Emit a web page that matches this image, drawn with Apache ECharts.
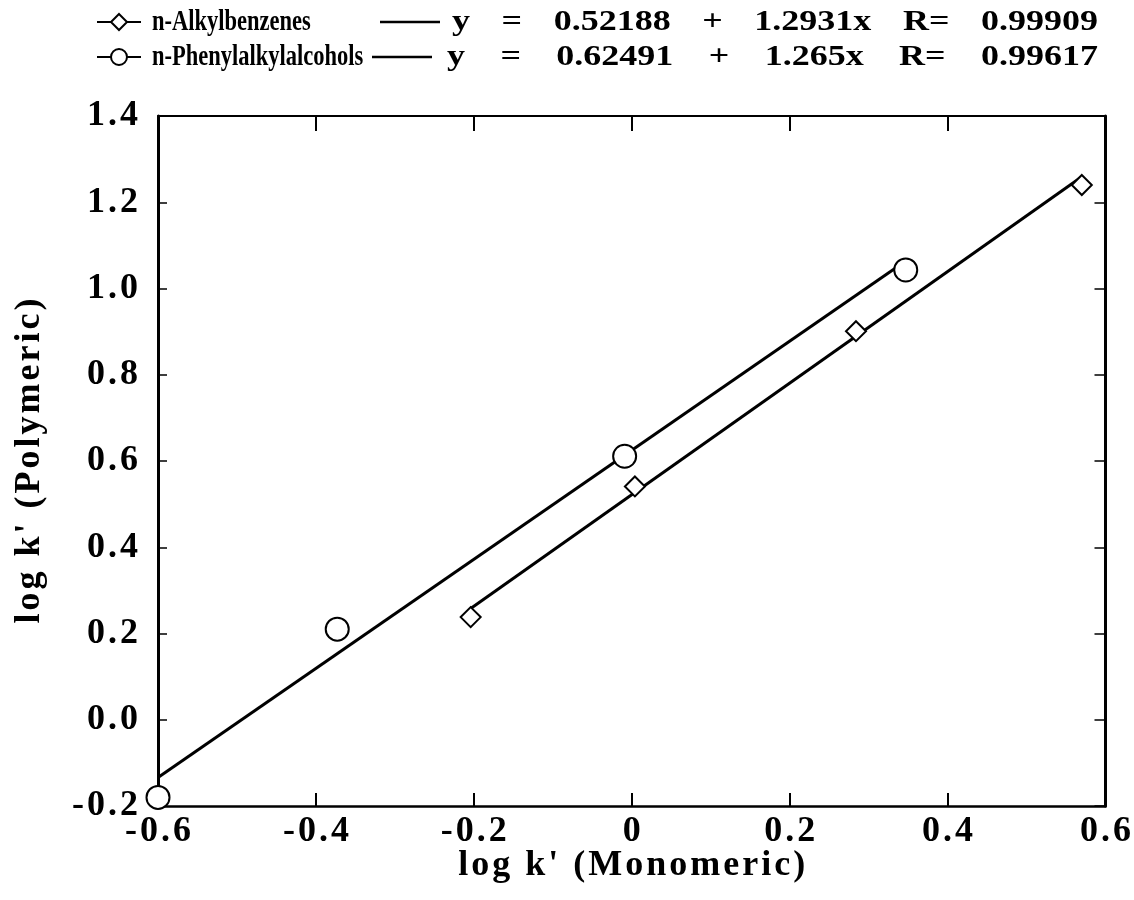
<!DOCTYPE html>
<html>
<head>
<meta charset="utf-8">
<script src="https://cdn.jsdelivr.net/npm/echarts@6/dist/echarts.min.js"></script>
<style>
  html, body { margin: 0; padding: 0; background: #fff; }
  #chart { width: 1134px; height: 900px; }
</style>
</head>
<body>
<div id="chart"></div>
<script>
// log k' values on the monomeric (x) and polymeric (y) phases
const alkylName = 'n-Alkylbenzenes';
const alkylX = [-0.204, 0.004, 0.284, 0.570];
const alkylY = [0.238, 0.541, 0.901, 1.240];

const phenylName = 'n-Phenylalkylalcohols';
const phenylX = [-0.600, -0.373, -0.009, 0.347];
const phenylY = [-0.180, 0.210, 0.611, 1.043];

// linear fits: y = a + b x, with correlation R
const fitA = [0.52188, 0.62491];
const fitB = [1.2931, 1.265];
const fitR = ['0.99909', '0.99617'];
const fitTokens = [0, 1].map(k => ['y', '=', String(fitA[k]), '+', fitB[k] + 'x', 'R=', fitR[k]]);

const xTicks = { min: -0.6, max: 0.6, step: 0.2 };
const yTicks = { min: -0.2, max: 1.4, step: 0.2 };

const pairs = (xs, ys) => xs.map((x, i) => [x, ys[i]]);
const fitLine = (k, xs) => {
  const lo = Math.min(...xs), hi = Math.max(...xs);
  return [[lo, fitA[k] + fitB[k] * lo], [hi, fitA[k] + fitB[k] * hi]];
};

const SERIF = '"Liberation Serif", "Times New Roman", serif';
const HAIR = '\u200A';
const spread = s => s.split('').join(HAIR);

const xLabel = v => spread(Math.abs(v) < 1e-9 ? '0' : v.toFixed(1));
const yLabel = v => spread(Math.abs(v) < 1e-9 ? '0.0' : v.toFixed(1));

const labelStyle = { fontFamily: SERIF, fontWeight: 'bold', fontSize: 36, color: '#000' };
const titleStyle = { fontFamily: SERIF, fontWeight: 'bold', fontSize: 36, color: '#000' };

// legend text: bold serif, measured so the pieces can be laid out in their slots
const LEGEND_FONT = 'bold 30px ' + SERIF;
const measureCtx = document.createElement('canvas').getContext('2d');
measureCtx.font = LEGEND_FONT;
const textWidth = s => measureCtx.measureText(s).width;
const NAME_SCALE = 0.75;
const EQ_SCALE = 1.2;

function legendText(str, x, y, scale) {
  return {
    type: 'text', x: x, y: y, scaleX: scale,
    style: { text: str, font: LEGEND_FONT, fill: '#000', textVerticalAlign: 'middle' }
  };
}
// spread the equation tokens evenly between x0 and x1
function equation(tokens, x0, x1, y) {
  const widths = tokens.map(t => textWidth(t) * EQ_SCALE);
  const gap = (x1 - x0 - widths.reduce((a, b) => a + b, 0)) / (tokens.length - 1);
  let x = x0;
  return tokens.map((t, i) => {
    const el = legendText(t, x, y, EQ_SCALE);
    x += widths[i] + gap;
    return el;
  });
}
function hline(x0, x1, y, w) {
  return { type: 'line', shape: { x1: x0, y1: y, x2: x1, y2: y }, style: { stroke: '#000', lineWidth: w } };
}

const row1 = 22, row2 = 57;
const keyX = 119;

const chart = echarts.init(document.getElementById('chart'), null, { renderer: 'canvas' });

const option = {
  backgroundColor: '#fff',
  animation: false,
  grid: { left: 158, right: 28, top: 116, bottom: 94 },
  xAxis: [
    {
      type: 'value', min: xTicks.min, max: xTicks.max, interval: xTicks.step, position: 'bottom',
      name: spread("log k' (Monomeric)"), nameLocation: 'middle', nameGap: 42, nameMoveOverlap: false,
      nameTextStyle: titleStyle,
      axisLine: { onZero: false, lineStyle: { color: '#000', width: 2.5 } },
      axisTick: { inside: true, length: 13, lineStyle: { color: '#000', width: 2 } },
      axisLabel: Object.assign({ margin: 8, formatter: xLabel }, labelStyle),
      splitLine: { show: false }
    },
    {
      type: 'value', min: xTicks.min, max: xTicks.max, interval: xTicks.step, position: 'top',
      axisLine: { onZero: false, lineStyle: { color: '#000', width: 2 } },
      axisTick: { inside: true, length: 15, lineStyle: { color: '#000', width: 2 } },
      axisLabel: { show: false },
      splitLine: { show: false }
    }
  ],
  yAxis: [
    {
      type: 'value', min: yTicks.min, max: yTicks.max, interval: yTicks.step, position: 'left',
      name: spread("log k' (Polymeric)"), nameLocation: 'middle', nameGap: 110, nameRotate: 90,
      nameMoveOverlap: false,
      nameTextStyle: titleStyle,
      axisLine: { onZero: false, lineStyle: { color: '#000', width: 3 } },
      axisTick: { inside: true, length: 9, lineStyle: { color: '#000', width: 1.5 } },
      axisLabel: Object.assign({ margin: 20, formatter: yLabel }, labelStyle),
      splitLine: { show: false }
    },
    {
      type: 'value', min: yTicks.min, max: yTicks.max, interval: yTicks.step, position: 'right',
      axisLine: { onZero: false, lineStyle: { color: '#000', width: 3 } },
      axisTick: { inside: true, length: 11, lineStyle: { color: '#000', width: 1.5 } },
      axisLabel: { show: false },
      splitLine: { show: false }
    }
  ],
  series: [
    {
      name: 'fit ' + alkylName, type: 'line', data: fitLine(0, alkylX), symbol: 'none',
      lineStyle: { color: '#000', width: 3 }, z: 2
    },
    {
      name: 'fit ' + phenylName, type: 'line', data: fitLine(1, phenylX), symbol: 'none',
      lineStyle: { color: '#000', width: 3 }, z: 2
    },
    {
      name: alkylName, type: 'scatter', data: pairs(alkylX, alkylY), symbol: 'diamond', symbolSize: 20,
      itemStyle: { color: '#fff', borderColor: '#000', borderWidth: 2, opacity: 1 }, z: 3, clip: false
    },
    {
      name: phenylName, type: 'scatter', data: pairs(phenylX, phenylY), symbol: 'circle', symbolSize: 23,
      itemStyle: { color: '#fff', borderColor: '#000', borderWidth: 2, opacity: 1 }, z: 3, clip: false
    }
  ],
  graphic: [
    // legend, first row: marker key and fit line key
    hline(97, 141, row1, 2),
    { type: 'polygon', shape: { points: [[keyX, row1 - 8], [keyX + 8, row1], [keyX, row1 + 8], [keyX - 8, row1]] },
      style: { fill: '#fff', stroke: '#000', lineWidth: 2 } },
    legendText(alkylName, 152, row1, NAME_SCALE),
    hline(380, 440, row1, 2.5),
    ...equation(fitTokens[0], 452, 1098, row1),
    // legend, second row
    hline(97, 141, row2, 2),
    { type: 'circle', shape: { cx: keyX, cy: row2, r: 8 }, style: { fill: '#fff', stroke: '#000', lineWidth: 2 } },
    legendText(phenylName, 152, row2, NAME_SCALE),
    hline(372, 432, row2, 2.5),
    ...equation(fitTokens[1], 447, 1098, row2)
  ]
};

chart.setOption(option);
</script>
</body>
</html>
